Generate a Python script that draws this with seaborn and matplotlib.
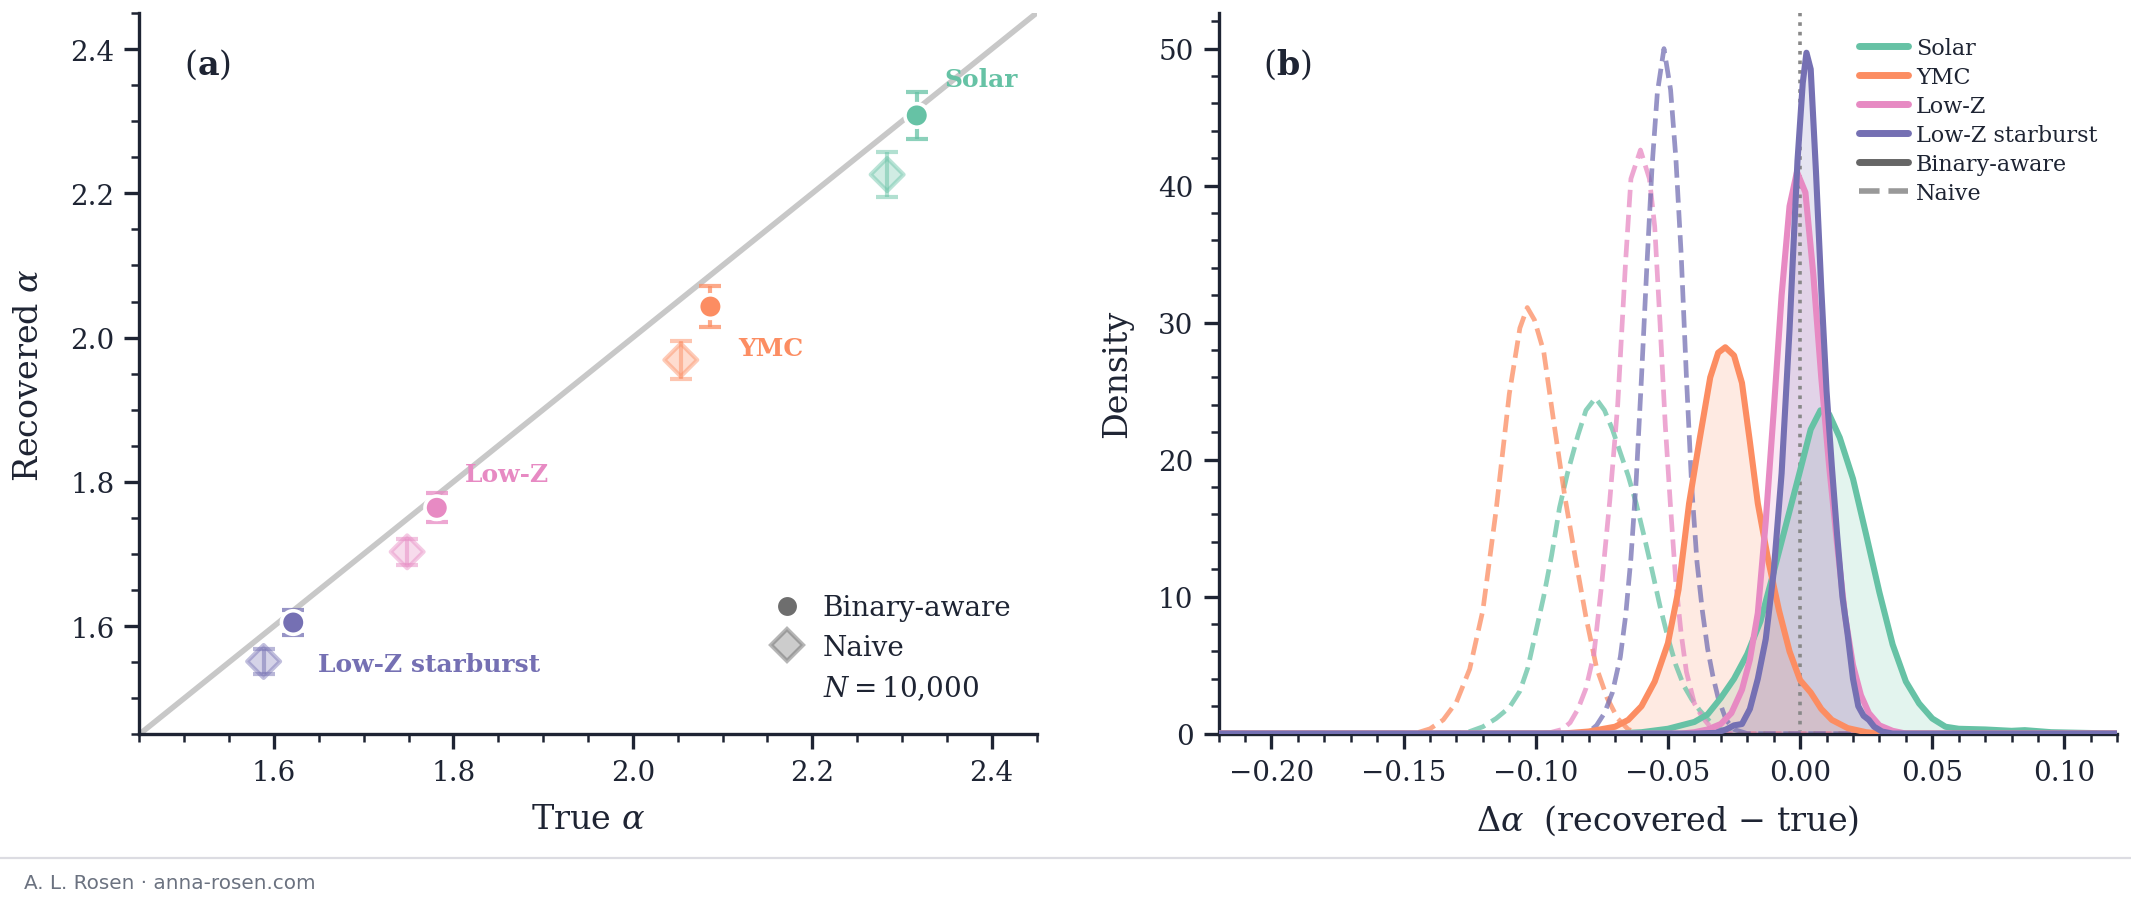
import pandas as pd
import matplotlib
matplotlib.use("Agg")
import matplotlib.pyplot as plt
from matplotlib.lines import Line2D
from matplotlib.ticker import MultipleLocator, FuncFormatter
from matplotlib.colors import to_rgba
import seaborn as sns

# ---- data ----
populations = ["Solar", "YMC", "Low-Z", "Low-Z starburst"]
colors = ["#66c2a5", "#fc8d62", "#e78ac3", "#7570b3"]

true_alpha = [2.300, 2.070, 1.765, 1.605]
recovered_binary = [2.308, 2.043, 1.764, 1.605]
err_binary = [0.033, 0.028, 0.020, 0.017]
recovered_naive = [2.226, 1.969, 1.703, 1.551]
err_naive = [0.031, 0.026, 0.018, 0.017]

# density curves of delta alpha
solar_binary_x = [-0.22, -0.07, -0.06, -0.05, -0.04, -0.035, -0.03, -0.025, -0.02, -0.015, -0.01, -0.005, 0.0, 0.004,
                  0.0077, 0.011, 0.015, 0.02, 0.025, 0.03, 0.035, 0.04, 0.045, 0.05, 0.055, 0.06, 0.07, 0.08, 0.085,
                  0.095, 0.12]
solar_binary_y = [0.0, 0.0, 0.1, 0.35, 0.85, 1.4, 2.6, 4.0, 5.8, 8.2, 11.8, 15.5, 19.2, 22.2, 23.6, 23.3, 21.6, 18.6,
                  14.5, 10.3, 6.5, 3.8, 2.2, 1.1, 0.5, 0.35, 0.3, 0.2, 0.25, 0.1, 0.0]

ymc_binary_x = [-0.22, -0.09, -0.08, -0.07, -0.065, -0.06, -0.055, -0.05, -0.046, -0.042, -0.038, -0.034, -0.031,
                -0.0283, -0.025, -0.022, -0.019, -0.016, -0.012, -0.008, -0.004, 0.0, 0.004, 0.008, 0.012, 0.018,
                0.025, 0.03, 0.12]
ymc_binary_y = [0.0, 0.0, 0.15, 0.5, 1.0, 2.0, 3.8, 6.6, 10.5, 16.8, 21.5, 26.0, 27.8, 28.2, 27.6, 25.6, 21.3, 16.8,
                12.6, 9.0, 6.0, 3.9, 3.0, 1.8, 1.0, 0.4, 0.1, 0.0, 0.0]

lowz_binary_x = [-0.22, -0.045, -0.04, -0.035, -0.03, -0.026, -0.022, -0.019, -0.016, -0.013, -0.010, -0.007, -0.004,
                 -0.0012, 0.002, 0.005, 0.008, 0.011, 0.014, 0.017, 0.020, 0.023, 0.026, 0.030, 0.035, 0.040, 0.12]
lowz_binary_y = [0.0, 0.0, 0.1, 0.3, 0.7, 1.5, 3.2, 5.4, 8.8, 15.5, 23.5, 32.0, 38.5, 41.0, 39.5, 33.5, 26.0, 19.5,
                 13.8, 8.6, 5.0, 2.8, 1.5, 0.6, 0.2, 0.0, 0.0]

starburst_binary_x = [-0.22, -0.04, -0.032, -0.028, -0.025, -0.022, -0.019, -0.016, -0.013, -0.010, -0.007, -0.004,
                      -0.001, 0.001, 0.0024, 0.004, 0.006, 0.008, 0.010, 0.012, 0.014, 0.016, 0.018, 0.020, 0.022,
                      0.024, 0.026, 0.028, 0.031, 0.035, 0.12]
starburst_binary_y = [0.0, 0.0, 0.05, 0.3, 0.6, 0.7, 1.8, 4.0, 6.9, 11.8, 19.0, 29.5, 41.8, 47.5, 49.7, 48.5, 41.0,
                      32.5, 25.0, 19.5, 14.5, 10.0, 7.2, 4.0, 2.0, 1.3, 1.0, 0.5, 0.15, 0.0, 0.0]

solar_naive_x = [-0.22, -0.13, -0.125, -0.12, -0.115, -0.11, -0.106, -0.103, -0.1, -0.097, -0.094, -0.091, -0.088,
                 -0.084, -0.081, -0.0774, -0.074, -0.071, -0.068, -0.065, -0.062, -0.059, -0.056, -0.053, -0.05,
                 -0.047, -0.044, -0.041, -0.038, -0.034, -0.03, -0.026, -0.02, 0.12]
solar_naive_y = [0.0, 0.0, 0.15, 0.5, 1.1, 1.9, 3.1, 4.8, 7.4, 10.0, 13.0, 16.5, 19.0, 21.8, 23.6, 24.5, 23.6, 22.2,
                 20.5, 18.8, 16.8, 14.4, 11.9, 9.3, 7.0, 5.0, 3.5, 2.5, 1.7, 0.85, 0.3, 0.05, 0.0, 0.0]

ymc_naive_x = [-0.22, -0.15, -0.145, -0.14, -0.135, -0.13, -0.125, -0.12, -0.115, -0.11, -0.106, -0.1032, -0.1005,
               -0.097, -0.093, -0.089, -0.085, -0.081, -0.077, -0.073, -0.069, -0.065, -0.06, 0.12]
ymc_naive_y = [0.0, 0.0, 0.05, 0.35, 1.0, 2.3, 4.7, 9.0, 16.3, 24.8, 29.6, 31.1, 30.2, 27.9, 22.5, 17.3, 12.8, 8.5,
               4.8, 2.6, 1.1, 0.3, 0.0, 0.0]

lowz_naive_x = [-0.22, -0.1, -0.095, -0.09, -0.087, -0.084, -0.081, -0.078, -0.075, -0.072, -0.069, -0.066, -0.064,
                -0.0604, -0.057, -0.055, -0.053, -0.051, -0.049, -0.047, -0.045, -0.043, -0.04, -0.037, -0.034,
                -0.03, -0.025, 0.12]
lowz_naive_y = [0.0, 0.0, 0.05, 0.3, 0.8, 1.8, 3.3, 5.8, 11.0, 17.0, 24.0, 34.5, 40.5, 42.6, 40.5, 37.0, 30.0, 22.5,
                16.5, 11.0, 7.3, 4.5, 2.2, 1.2, 0.5, 0.1, 0.0, 0.0]

starburst_naive_x = [-0.22, -0.085, -0.08, -0.077, -0.074, -0.071, -0.068, -0.066, -0.064, -0.062, -0.060, -0.058,
                     -0.056, -0.054, -0.0515, -0.049, -0.047, -0.045, -0.043, -0.041, -0.039, -0.037, -0.035, -0.033,
                     -0.031, -0.028, -0.025, -0.02, 0.12]
starburst_naive_y = [0.0, 0.0, 0.1, 0.6, 1.5, 3.0, 5.6, 8.6, 12.8, 18.5, 26.0, 34.0, 41.4, 46.8, 50.0, 47.0, 42.0,
                     35.0, 26.0, 18.0, 12.5, 9.0, 6.2, 4.2, 2.6, 1.0, 0.3, 0.0, 0.0]

binary_curves = [(solar_binary_x, solar_binary_y), (ymc_binary_x, ymc_binary_y),
                 (lowz_binary_x, lowz_binary_y), (starburst_binary_x, starburst_binary_y)]
naive_curves = [(solar_naive_x, solar_naive_y), (ymc_naive_x, ymc_naive_y),
                (lowz_naive_x, lowz_naive_y), (starburst_naive_x, starburst_naive_y)]

# ---- style ----
ink = "#1e2433"
sns.set_theme(style="ticks")
plt.rcParams["font.family"] = ["DejaVu Serif"]
plt.rcParams["mathtext.fontset"] = "dejavuserif"
plt.rcParams.update({
    "axes.edgecolor": ink, "axes.labelcolor": ink, "text.color": ink,
    "xtick.color": ink, "ytick.color": ink,
    "axes.linewidth": 1.2,
    "xtick.major.width": 1.2, "ytick.major.width": 1.2,
    "xtick.minor.width": 0.9, "ytick.minor.width": 0.9,
    "xtick.major.size": 5.5, "ytick.major.size": 5.5,
    "xtick.minor.size": 2.8, "ytick.minor.size": 2.8,
    "xtick.labelsize": 10, "ytick.labelsize": 10,
    "axes.labelsize": 12,
})

fig = plt.figure(figsize=(10.655, 4.515), dpi=200)
ax1 = fig.add_axes([0.0654, 0.1857, 0.4210, 0.7988])
ax2 = fig.add_axes([0.5718, 0.1865, 0.4218, 0.7980])

# ---- panel a ----
dodge = 0.0165
ax1.axline((1.5, 1.5), slope=1, color="#c8c8c8", lw=2.0, zorder=1)

pts = pd.DataFrame({
    "population": populations,
    "x_binary": [t + dodge for t in true_alpha],
    "x_naive": [t - dodge for t in true_alpha],
    "binary": recovered_binary,
    "naive": recovered_naive,
})

for i, pop in enumerate(populations):
    c = colors[i]
    ax1.errorbar(pts.x_naive[i], recovered_naive[i], yerr=err_naive[i], fmt="none", ecolor=c, alpha=0.5,
                 elinewidth=1.5, capsize=4, capthick=1.5, zorder=2)
    ax1.errorbar(pts.x_binary[i], recovered_binary[i], yerr=err_binary[i], fmt="none", ecolor=c, alpha=0.75,
                 elinewidth=1.5, capsize=4, capthick=1.5, zorder=3)

sns.scatterplot(data=pts, x="x_naive", y="naive", hue="population", palette=colors, marker="D", s=70,
                linewidth=1.5, legend=False, ax=ax1, zorder=3)
naive_coll = ax1.collections[-1]
naive_coll.set_facecolors([to_rgba(c, 0.3) for c in colors])
naive_coll.set_edgecolors([to_rgba(c, 0.45) for c in colors])

sns.scatterplot(data=pts, x="x_binary", y="binary", hue="population", palette=colors, marker="o", s=72,
                edgecolor="white", linewidth=1.3, legend=False, ax=ax1, zorder=4)

label_offsets = [(10, 13), (10, -15), (10, 12), (9, -15)]
for i, pop in enumerate(populations):
    ax1.annotate(pop, (pts.x_binary[i], recovered_binary[i]), xytext=label_offsets[i], textcoords="offset points",
                 color=colors[i], fontsize=9, fontweight="bold", ha="left", va="center")

ax1.set_xlim(1.45, 2.45)
ax1.set_ylim(1.45, 2.45)
ax1.xaxis.set_major_locator(MultipleLocator(0.2))
ax1.xaxis.set_minor_locator(MultipleLocator(0.05))
ax1.yaxis.set_major_locator(MultipleLocator(0.2))
ax1.yaxis.set_minor_locator(MultipleLocator(0.05))
ax1.set_xlabel(r"True $\alpha$", labelpad=6)
ax1.set_ylabel(r"Recovered $\alpha$", labelpad=9)
ax1.text(0.05, 0.93, r"$(\mathbf{a})$", transform=ax1.transAxes, fontsize=12, va="center", ha="left")

gray = "#6e6e6e"
leg_handles = [
    Line2D([], [], ls="none", marker="o", ms=8, mfc=gray, mec="white", mew=1.2),
    Line2D([], [], ls="none", marker="D", ms=8, mfc=to_rgba(gray, 0.35), mec=to_rgba(gray, 0.5), mew=1.5),
    Line2D([], [], ls="none"),
]
ax1.legend(leg_handles, ["Binary-aware", "Naive", r"$N = 10{,}000$"], loc="lower right", frameon=False,
           fontsize=10, handlelength=1.6, handletextpad=0.5, labelspacing=0.45, bbox_to_anchor=(1.0, 0.01))

# ---- panel b ----
for i, pop in enumerate(populations):
    x, y = naive_curves[i]
    d = pd.DataFrame({"delta": x, "density": y})
    sns.lineplot(data=d, x="delta", y="density", color=colors[i], lw=1.7, ls="--", alpha=0.75,
                 sort=False, estimator=None, ax=ax2, zorder=2)

for i, pop in enumerate(populations):
    x, y = binary_curves[i]
    d = pd.DataFrame({"delta": x, "density": y})
    ax2.fill_between(d.delta, d.density, color=colors[i], alpha=0.18, lw=0, zorder=1)
    sns.lineplot(data=d, x="delta", y="density", color=colors[i], lw=2.2, sort=False, estimator=None,
                 ax=ax2, zorder=3)

ax2.axvline(0, color="#888888", ls=":", lw=1.3, zorder=1.5)

ax2.set_xlim(-0.22, 0.12)
ax2.set_ylim(0, 52.6)
ax2.xaxis.set_major_locator(MultipleLocator(0.05))
ax2.xaxis.set_minor_locator(MultipleLocator(0.01))
ax2.yaxis.set_major_locator(MultipleLocator(10))
ax2.yaxis.set_minor_locator(MultipleLocator(2))
ax2.xaxis.set_major_formatter(FuncFormatter(lambda v, p: f"{v:.2f}".replace("-", "\u2212")))
ax2.set_xlabel(r"$\Delta\alpha$  (recovered $-$ true)", labelpad=6)
ax2.set_ylabel("Density", labelpad=9)
ax2.text(0.05, 0.93, r"$(\mathbf{b})$", transform=ax2.transAxes, fontsize=12, va="center", ha="left")

leg2_handles = [Line2D([], [], color=c, lw=2.5) for c in colors]
leg2_handles += [Line2D([], [], color="#666666", lw=2.5), Line2D([], [], color="#999999", lw=2.0, ls="--")]
ax2.legend(leg2_handles, populations + ["Binary-aware", "Naive"], loc="upper right", frameon=False, fontsize=8,
           handlelength=2.2, handletextpad=0.35, labelspacing=0.32, bbox_to_anchor=(1.0, 0.995))

for ax in (ax1, ax2):
    sns.despine(ax=ax)

# ---- footer ----
fig.add_artist(Line2D([0, 1], [0.049, 0.049], transform=fig.transFigure, color="#dcdce2", lw=0.8))
fig.text(0.0113, 0.0215, "A. L. Rosen · anna-rosen.com", family="DejaVu Sans", fontsize=7.2, color="#6b7280",
         va="center", ha="left")

fig.savefig("out.png", dpi=200)
